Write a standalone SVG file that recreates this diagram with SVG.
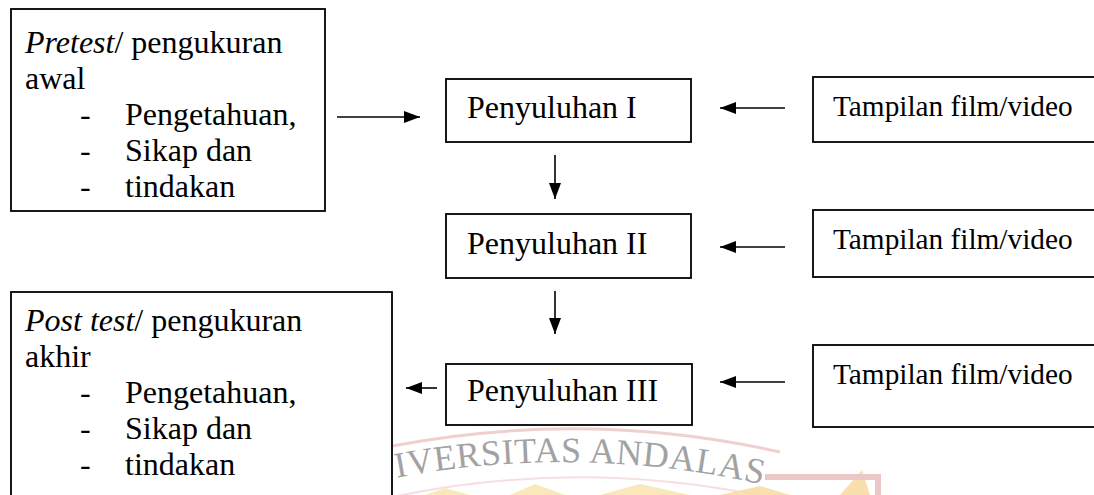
<svg xmlns="http://www.w3.org/2000/svg" width="1094" height="495" viewBox="0 0 1094 495">
<style>
.box{fill:#fff;stroke:#000;stroke-width:1.8}
.t{font-family:"Liberation Serif","Times New Roman",serif;font-size:32px;fill:#000}
.s{font-family:"Liberation Serif","Times New Roman",serif;font-size:29.3px;fill:#000}
.i{font-style:italic}
.ln{stroke:#000;stroke-width:1.6;fill:none}
.wm{font-family:"Liberation Serif","Times New Roman",serif;font-size:36px;fill:#8c8c8c;letter-spacing:0.5px}
</style>
<defs>
<marker id="ah" viewBox="0 0 16 12" refX="16" refY="6" markerWidth="16" markerHeight="12" markerUnits="userSpaceOnUse" orient="auto">
<path d="M0,0 L16,6 L0,12 Z" fill="#000"/>
</marker>
<path id="arcT" d="M380,481 A900,900 0 0 1 800,494"/>
</defs>
<rect width="1094" height="495" fill="#fff"/>

<g id="watermark">
<g opacity="0.5">
<path d="M392,446 A960,960 0 0 1 780,452" fill="none" stroke="#e2a0a0" stroke-width="3"/>
<path d="M392,497 A910,910 0 0 1 780,500" fill="none" stroke="#f0c0c0" stroke-width="2"/>
<polygon points="425,495 445,488 470,495" fill="#f6d27a"/>
<polygon points="510,495 535,484 565,495" fill="#f6d27a"/>
<polygon points="600,495 640,484 690,495" fill="#f6d27a"/>
<polygon points="720,495 760,486 790,495" fill="#f6c060"/>
<polygon points="840,495 862,470 870,495" fill="#f6c060"/>
<polyline points="765,477 878,477 878,495" fill="none" stroke="#d89090" stroke-width="6"/>
</g>
<text class="wm" opacity="0.8"><textPath href="#arcT" startOffset="17">IVERSITAS ANDALAS</textPath></text>
</g>

<g id="connectors">
<line class="ln" x1="337" y1="117" x2="420" y2="117" marker-end="url(#ah)"/>
<line class="ln" x1="785" y1="108" x2="720" y2="108" marker-end="url(#ah)"/>
<line class="ln" x1="555" y1="155" x2="555" y2="199" marker-end="url(#ah)"/>
<line class="ln" x1="785" y1="247" x2="720" y2="247" marker-end="url(#ah)"/>
<line class="ln" x1="555" y1="291" x2="555" y2="334" marker-end="url(#ah)"/>
<line class="ln" x1="785" y1="382" x2="720" y2="382" marker-end="url(#ah)"/>
<line class="ln" x1="437" y1="388" x2="406" y2="388" marker-end="url(#ah)"/>
</g>

<g id="pretest">
<rect class="box" x="11" y="9" width="314" height="202"/>
<text class="t" x="25" y="53"><tspan class="i">Pretest</tspan>/ pengukuran</text>
<text class="t" x="25" y="89">awal</text>
<text class="t" x="80" y="125">-</text><text class="t" x="125" y="125">Pengetahuan,</text>
<text class="t" x="80" y="161">-</text><text class="t" x="125" y="161">Sikap dan</text>
<text class="t" x="80" y="197">-</text><text class="t" x="125" y="197">tindakan</text>
</g>

<g id="penyuluhan1">
<rect class="box" x="446" y="79" width="245" height="63"/>
<text class="t" x="467" y="118">Penyuluhan I</text>
</g>

<g id="penyuluhan2">
<rect class="box" x="446" y="214" width="245" height="64"/>
<text class="t" x="467" y="254">Penyuluhan II</text>
</g>

<g id="penyuluhan3">
<rect class="box" x="446" y="364" width="246" height="61"/>
<text class="t" x="467" y="401">Penyuluhan III</text>
</g>

<g id="film1">
<rect class="box" x="813" y="77" width="300" height="65"/>
<text class="s" x="833" y="116">Tampilan film/video</text>
</g>

<g id="film2">
<rect class="box" x="813" y="210" width="300" height="67"/>
<text class="s" x="833" y="249">Tampilan film/video</text>
</g>

<g id="film3">
<rect class="box" x="813" y="345" width="300" height="82"/>
<text class="s" x="833" y="384">Tampilan film/video</text>
</g>

<g id="posttest">
<rect class="box" x="11" y="292" width="381" height="230"/>
<text class="t" x="25" y="331"><tspan class="i">Post test</tspan>/ pengukuran</text>
<text class="t" x="25" y="367">akhir</text>
<text class="t" x="80" y="403">-</text><text class="t" x="125" y="403">Pengetahuan,</text>
<text class="t" x="80" y="439">-</text><text class="t" x="125" y="439">Sikap dan</text>
<text class="t" x="80" y="475">-</text><text class="t" x="125" y="475">tindakan</text>
</g>
</svg>
